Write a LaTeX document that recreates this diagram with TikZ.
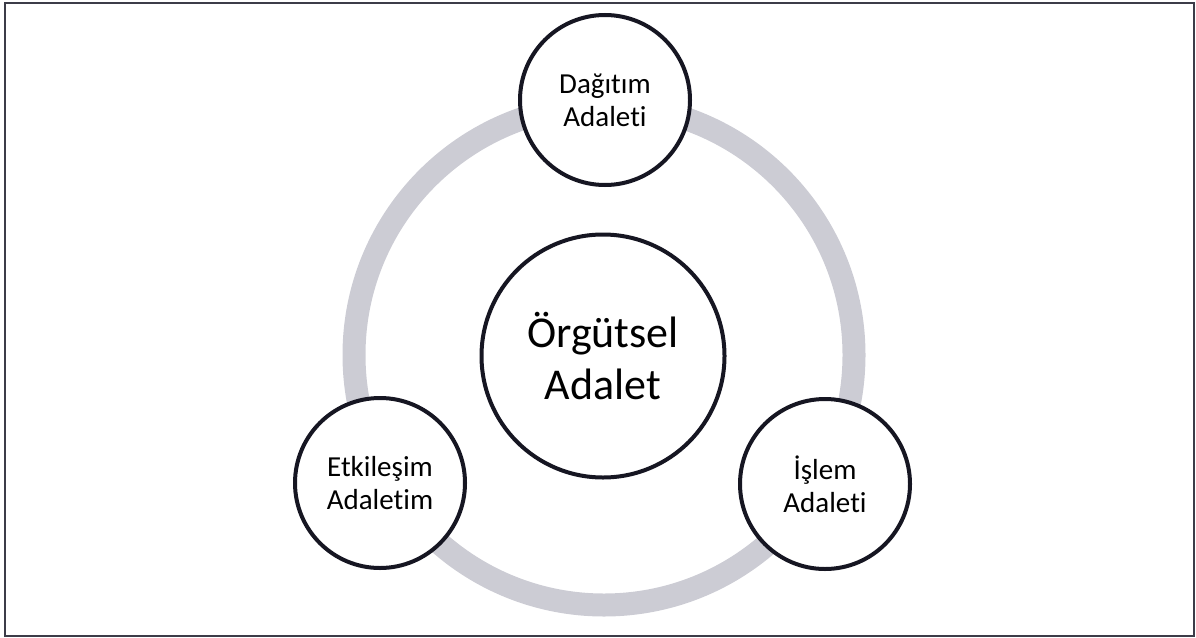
\documentclass[tikz,border=0pt]{standalone}
\usepackage{fontspec}
\setmainfont{Carlito}[Ligatures=CommonOff]
\usetikzlibrary{positioning}
\definecolor{ringColor}{RGB}{204,204,212}
\definecolor{lineColor}{RGB}{22,22,34}
\definecolor{frameColor}{RGB}{60,60,72}
\tikzset{dimension/.style={circle, draw=lineColor, line width=4pt, fill=white, align=center, minimum size=170pt, inner sep=0pt, font=\fontsize{29}{33}\selectfont}}
\tikzset{core/.style={dimension, minimum size=243pt, font=\fontsize{44}{52}\selectfont}}

\begin{document}
\begin{tikzpicture}[x=1pt, y=-1pt]
\pgfdeclarelayer{background}
\pgfsetlayers{background,main}

\useasboundingbox (0,0) rectangle (1196,637);
\draw[frameColor, line width=2pt] (5,3) rectangle (1194,636);

% Nodes
    \node (OrgutselAdalet) [core] at (603,356) {Örgütsel\\ Adalet};

    \node (DagitimAdaleti) [dimension] at (605,100) {Dağıtım\\ Adaleti};

    \node (EtkilesimAdaletim) [dimension] at (380,483) {Etkileşim\\ Adaletim};

    \node (IslemAdaleti) [dimension] at (825,484) {İşlem\\ Adaleti};

% Ring
\begin{pgfonlayer}{background}
    \coordinate (RingCenter) at (604,355);
    \draw [ringColor, line width=23pt] (RingCenter) circle (250pt);
\end{pgfonlayer}

\end{tikzpicture}
\end{document}
